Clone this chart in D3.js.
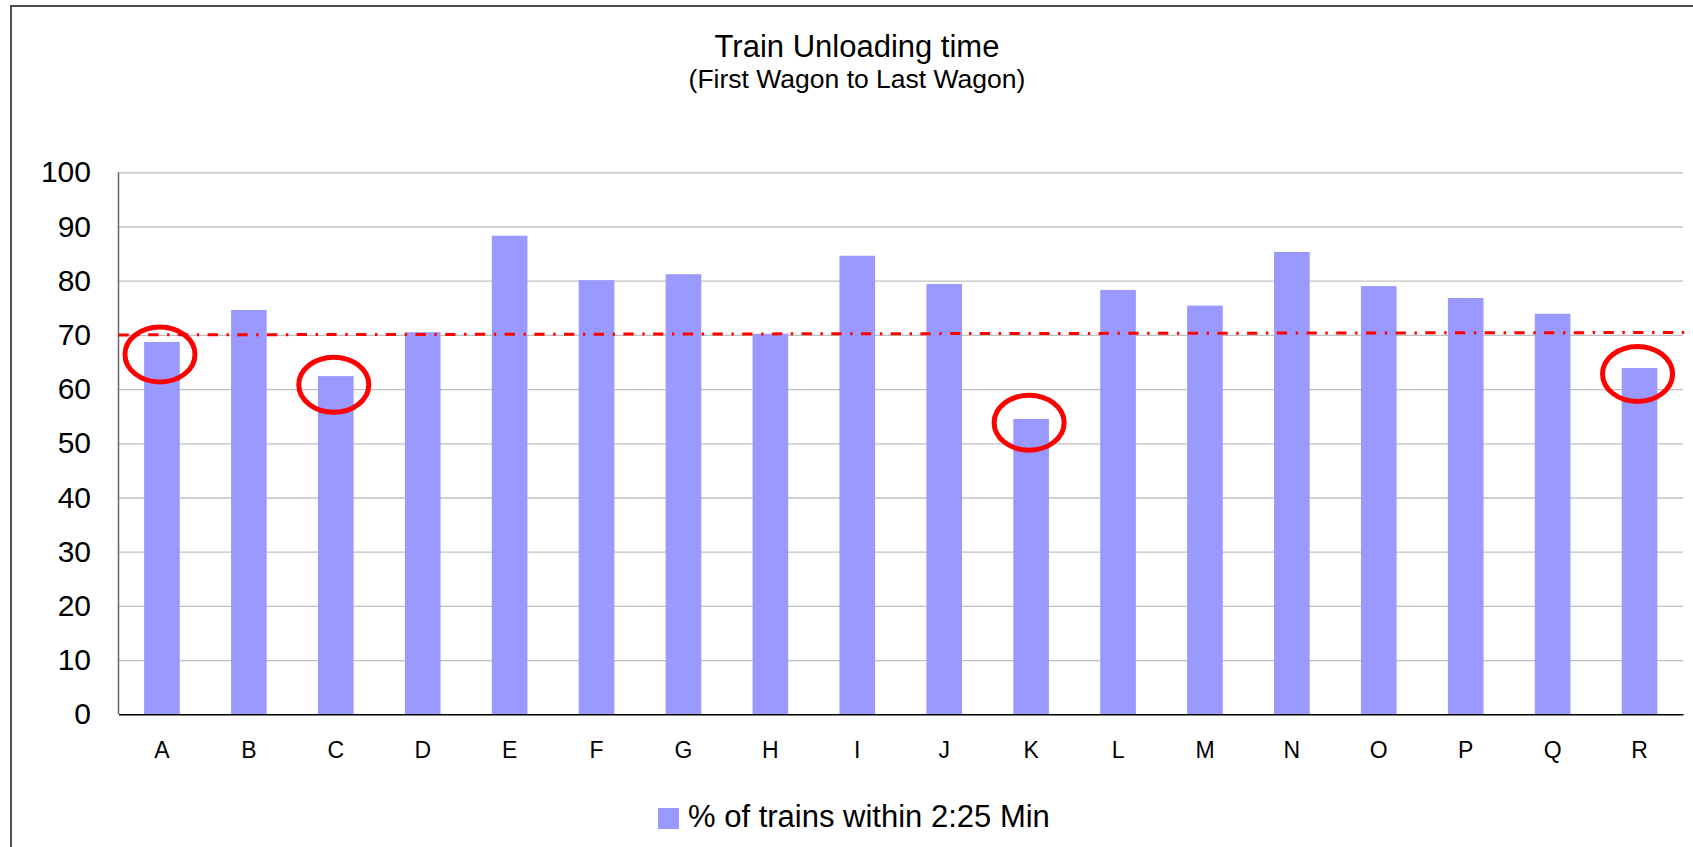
<!DOCTYPE html>
<html>
<head>
<meta charset="utf-8">
<script src="https://cdn.jsdelivr.net/npm/d3@7"></script>
<style>
  html, body { margin: 0; padding: 0; background: #fff; }
  svg { display: block; font-family: "Liberation Sans", Arial, sans-serif; }
</style>
</head>
<body>
<svg id="chart" width="1693" height="847"></svg>
<script>
// Unloading sites and the share of trains unloaded within 2:25 min
const categories = ["A","B","C","D","E","F","G","H","I","J","K","L","M","N","O","P","Q","R"];
const values = [68.7, 74.6, 62.4, 70.5, 88.3, 80.1, 81.2, 70.2, 84.6, 79.4, 54.5, 78.3, 75.4, 85.3, 79.0, 76.8, 73.9, 63.9];
const yTicks = [0, 10, 20, 30, 40, 50, 60, 70, 80, 90, 100];
// Target line, value at the left and right ends of the plot
const targetLine = [70.0, 70.45];
// Sites highlighted as below target, with the level the ring is centred on
const flagged = ["A", "C", "K", "R"];
const flaggedLevel = [66.4, 60.8, 53.8, 62.8];

const titleText = "Train Unloading time";
const subtitleText = "(First Wagon to Last Wagon)";
const seriesName = "% of trains within 2:25 Min";

const barColor = "#9999ff";
const svg = d3.select("#chart");

const plot = { left: 118.5, right: 1683, top: 172.3, bottom: 714.3 };

// outer chart frame
svg.append("rect")
  .attr("x", 11).attr("y", 6)
  .attr("width", 1720).attr("height", 900)
  .attr("fill", "#fff").attr("stroke", "#222").attr("stroke-width", 1.6);

const x = d3.scaleBand()
  .domain(categories)
  .range([plot.left, plot.right])
  .paddingInner(0.59)
  .paddingOuter(0.295);

const y = d3.scaleLinear().domain([0, 100]).range([plot.bottom, plot.top]);

// horizontal gridlines
svg.append("g")
  .attr("transform", `translate(${plot.left},0)`)
  .call(d3.axisLeft(y).tickValues(yTicks.filter(t => t > 0)).tickSize(-(plot.right - plot.left)).tickFormat(""))
  .call(g => g.select(".domain").remove())
  .call(g => g.selectAll("line").attr("stroke", "#c0c0c0").attr("stroke-width", 1.3));

// y axis labels
svg.append("g")
  .attr("transform", `translate(${plot.left},0)`)
  .call(d3.axisLeft(y).tickValues(yTicks).tickSize(0).tickPadding(27.5))
  .call(g => g.select(".domain").remove())
  .call(g => g.selectAll("text").attr("font-size", 30).attr("fill", "#000")
    .attr("font-family", "'Liberation Sans', Arial, sans-serif"));

// left axis line
svg.append("line")
  .attr("x1", plot.left).attr("x2", plot.left)
  .attr("y1", plot.top).attr("y2", plot.bottom)
  .attr("stroke", "#666").attr("stroke-width", 1.5);

// bars
svg.append("g")
  .selectAll("rect")
  .data(categories.map((c, i) => ({ c, v: values[i] })))
  .join("rect")
  .attr("x", d => x(d.c))
  .attr("width", x.bandwidth())
  .attr("y", d => y(d.v))
  .attr("height", d => y(0) - y(d.v))
  .attr("fill", barColor);

// bottom axis
svg.append("g")
  .attr("transform", `translate(0,${plot.bottom})`)
  .call(d3.axisBottom(x).tickSize(0).tickPadding(27.4))
  .call(g => g.select(".domain").attr("stroke", "#000").attr("stroke-width", 1.6))
  .call(g => g.selectAll("text").attr("font-size", 23).attr("fill", "#000")
    .attr("font-family", "'Liberation Sans', Arial, sans-serif"));

// target line (dash-dot)
svg.append("line")
  .attr("x1", plot.left).attr("x2", plot.right + 8)
  .attr("y1", y(targetLine[0])).attr("y2", y(targetLine[1]))
  .attr("stroke", "#ff0000").attr("stroke-width", 3)
  .attr("stroke-dasharray", "10.3 8.6 2.4 8.4");

// rings around the sites below target
svg.append("g")
  .selectAll("ellipse")
  .data(flagged.map((c, i) => ({ c, v: flaggedLevel[i] })))
  .join("ellipse")
  .attr("cx", d => x(d.c) + x.bandwidth() / 2 - 2)
  .attr("cy", d => y(d.v))
  .attr("rx", 35)
  .attr("ry", 27.5)
  .attr("fill", "none")
  .attr("stroke", "#ff0000")
  .attr("stroke-width", 5);

// title
svg.append("text")
  .attr("x", 857).attr("y", 56.7)
  .attr("text-anchor", "middle")
  .attr("font-size", 31)
  .text(titleText);
svg.append("text")
  .attr("x", 857).attr("y", 88.3)
  .attr("text-anchor", "middle")
  .attr("font-size", 26.5)
  .text(subtitleText);

// legend
const legend = svg.append("g");
legend.append("rect")
  .attr("x", 658).attr("y", 808)
  .attr("width", 21).attr("height", 21)
  .attr("fill", barColor);
legend.append("text")
  .attr("x", 688).attr("y", 826.7)
  .attr("font-size", 31)
  .text(seriesName);
</script>
</body>
</html>
